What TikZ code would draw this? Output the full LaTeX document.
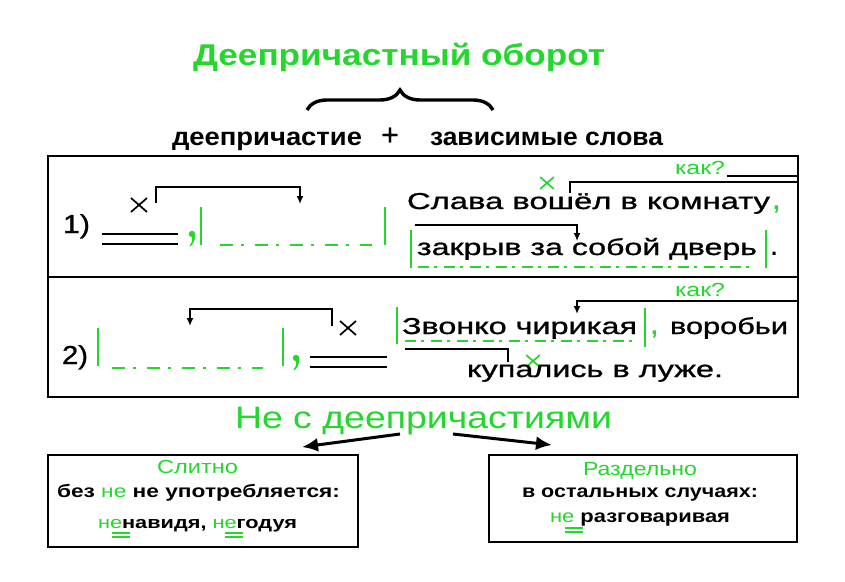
\documentclass[tikz,border=0pt]{standalone}
\usepackage{fontspec}
\usepackage{graphicx}
\setmainfont{Liberation Sans}
\newfontfamily\medf[FakeBold=0.9]{Liberation Sans}
\usetikzlibrary{arrows.meta,decorations.pathreplacing}
\definecolor{gr}{RGB}{35,215,45}
\newcommand\fw[2]{\resizebox{#1pt}{\height}{#2}}
\newcommand\fsz[1]{\fontsize{#1}{#1}\selectfont}
\begin{document}
\begin{tikzpicture}[x=1pt,y=-1pt,
  txt/.style={anchor=base west,inner sep=0pt,outer sep=0pt},
  ln/.style={line width=1.6pt},
  gbar/.style={gr,line width=2.2pt},
  dd/.style={gr,line width=2pt,dash pattern=on 13pt off 8pt on 3pt off 11pt},
  ddu/.style={gr,line width=2pt,dash pattern=on 11pt off 5pt on 3pt off 7pt},
  ar/.style={ln,-{Latex[length=8pt,width=7pt]}},
  big/.style={line width=3pt,-{Latex[length=16pt,width=14pt]}},
  dbl/.style={gr,line width=1.1pt},
  cross/.pic={\draw[line width=1.7pt] (-8,-7) -- (8,7) (-8,7) -- (8,-7);},
  gcomma/.pic={\fill (0,0) circle (3.2);
     \fill (3.2,0) .. controls (3.4,6) and (1.5,10) .. (-1.8,12.5) -- (-2.4,11.2) .. controls (-0.2,9.5) and (0.8,6) .. (0,2) -- cycle;}
  ]
\path[use as bounding box, fill=white] (0,0) rectangle (845,581);

% title
\node[txt] (title) at (193,65) {\fsz{30}\bfseries\color{gr}\fw{412}{Деепричастный оборот}};
\draw[line width=3.4pt, decorate, decoration={brace, amplitude=20pt}] (307,110) -- (493,110);
\node[txt] (dp) at (172,145) {\fsz{25}\bfseries\fw{190}{деепричастие}};
\node[anchor=base, inner sep=0pt] (plus) at (390,145) {\fsz{30}\medf +};
\node[txt] (zs) at (430,145) {\fsz{25}\bfseries\fw{233}{зависимые слова}};

% outer frame
\draw[line width=1.8pt] (48,156) rectangle (798,397);
\draw[line width=1.8pt] (48,277) -- (798,277);

% ---- row 1 ----
\node[txt] (n1) at (63,233) {\fsz{26}\medf\fw{27}{1)}};
\draw[ln] (102,234) -- (178,234) (102,244) -- (178,244);
\pic at (139,205) {cross};
\draw[ar] (156,203) -- (156,187) -- (300,187) -- (300,204);
\pic[gr] at (192,234) {gcomma};
\draw[gbar] (201,207) -- (201,245);
\draw[dd] (220,245) -- (372,245);
\draw[gbar] (385,207) -- (385,245);

\node[txt] (s1a) at (407,209) {\fsz{23}\medf\fw{363}{Слава вошёл в комнату}};
\node[txt] (c1) at (773,209) {\fsz{24}\bfseries\color{gr},};
\node[txt] (kak1) at (675,174) {\fsz{19}\color{gr}\fw{50}{как?}};
\pic[gr, scale=0.85] at (547,183) {cross};
\draw[ln] (570,193) -- (570,182) -- (798,182);
\draw[ln] (727,176) -- (798,176);
\draw[ar] (415,225) -- (577,225) -- (577,241);
\draw[gbar] (411,230) -- (411,268);
\node[txt] (s1b) at (417,255) {\fsz{23}\medf\fw{340}{закрыв за собой дверь}};
\draw[gbar] (766,230) -- (766,268);
\node[txt] (p1) at (771,255) {\fsz{22}\bfseries .};
\draw[ddu] (418,267) -- (755,267);

% ---- row 2 ----
\node[txt] (n2) at (62,364) {\fsz{26}\medf\fw{26}{2)}};
\draw[gbar] (98,328) -- (98,366);
\draw[dd] (112,368) -- (263,368);
\draw[gbar] (283,328) -- (283,366);
\pic[gr] at (296,358) {gcomma};
\draw[ln] (310,357) -- (387,357) (310,367) -- (387,367);
\pic at (348,328) {cross};
\draw[ar] (332,326) -- (332,309) -- (190,309) -- (190,326);

\draw[gbar] (397,307) -- (397,344);
\node[txt] (s2a) at (402,334) {\fsz{23}\medf\fw{235}{Звонко чирикая}};
\draw[gbar] (645,308) -- (645,347);
\node[txt] (c2) at (651,334) {\fsz{24}\bfseries\color{gr},};
\node[txt] (s2c) at (670,334) {\fsz{23}\medf\fw{118}{воробьи}};
\node[txt] (kak2) at (675,296) {\fsz{19}\color{gr}\fw{50}{как?}};
\draw[ar] (798,301) -- (577,301) -- (577,314);
\draw[ddu] (405,341) -- (633,341);
\draw[ln] (405,349) -- (508,349) -- (508,362);
\pic[gr, scale=0.85] at (533,361) {cross};
\node[txt] (s2b) at (467,377) {\fsz{23}\medf\fw{256}{купались в луже.}};

% ---- bottom ----
\node[txt] (ne) at (235,428) {\fsz{31}\color{gr}\fw{377}{Не с деепричастиями}};
\coordinate (al) at (400,434);
\coordinate (ar) at (453,434);
\coordinate (tl) at (302,447);
\coordinate (tr) at (552,445);
\draw[big] (al) -- (tl);
\draw[big] (ar) -- (tr);

\node[draw, line width=1.8pt, minimum width=310pt, minimum height=92pt, inner sep=0pt] (lbox) at (203,501) {};
\node[draw, line width=1.8pt, minimum width=308pt, minimum height=87pt, inner sep=0pt] (rbox) at (643,498.5) {};

\node[txt] (sl) at (157,473) {\fsz{19}\color{gr}\fw{81}{Слитно}};
\node[txt] (l1) at (57,497) {\fsz{18}\fw{283}{\bfseries без \textcolor{gr}{\mdseries не} не употребляется:}};
\node[txt] (l2) at (98,528) {\fsz{17}\fw{199}{\textcolor{gr}{не}\bfseries навидя, \textcolor{gr}{\mdseries не}годуя}};
\draw[dbl] (112,533) -- (130,533) (112,537) -- (130,537);
\draw[dbl] (225,533) -- (243,533) (225,537) -- (243,537);

\node[txt] (rz) at (583,475) {\fsz{19}\color{gr}\fw{114}{Раздельно}};
\node[txt] (r1) at (522,497) {\fsz{18}\bfseries\fw{236}{в остальных случаях:}};
\node[txt] (r2) at (550,522) {\fsz{18}\fw{180}{\textcolor{gr}{не} \bfseries разговаривая}};
\draw[dbl] (565,528) -- (583,528) (565,532) -- (583,532);
\end{tikzpicture}
\end{document}
